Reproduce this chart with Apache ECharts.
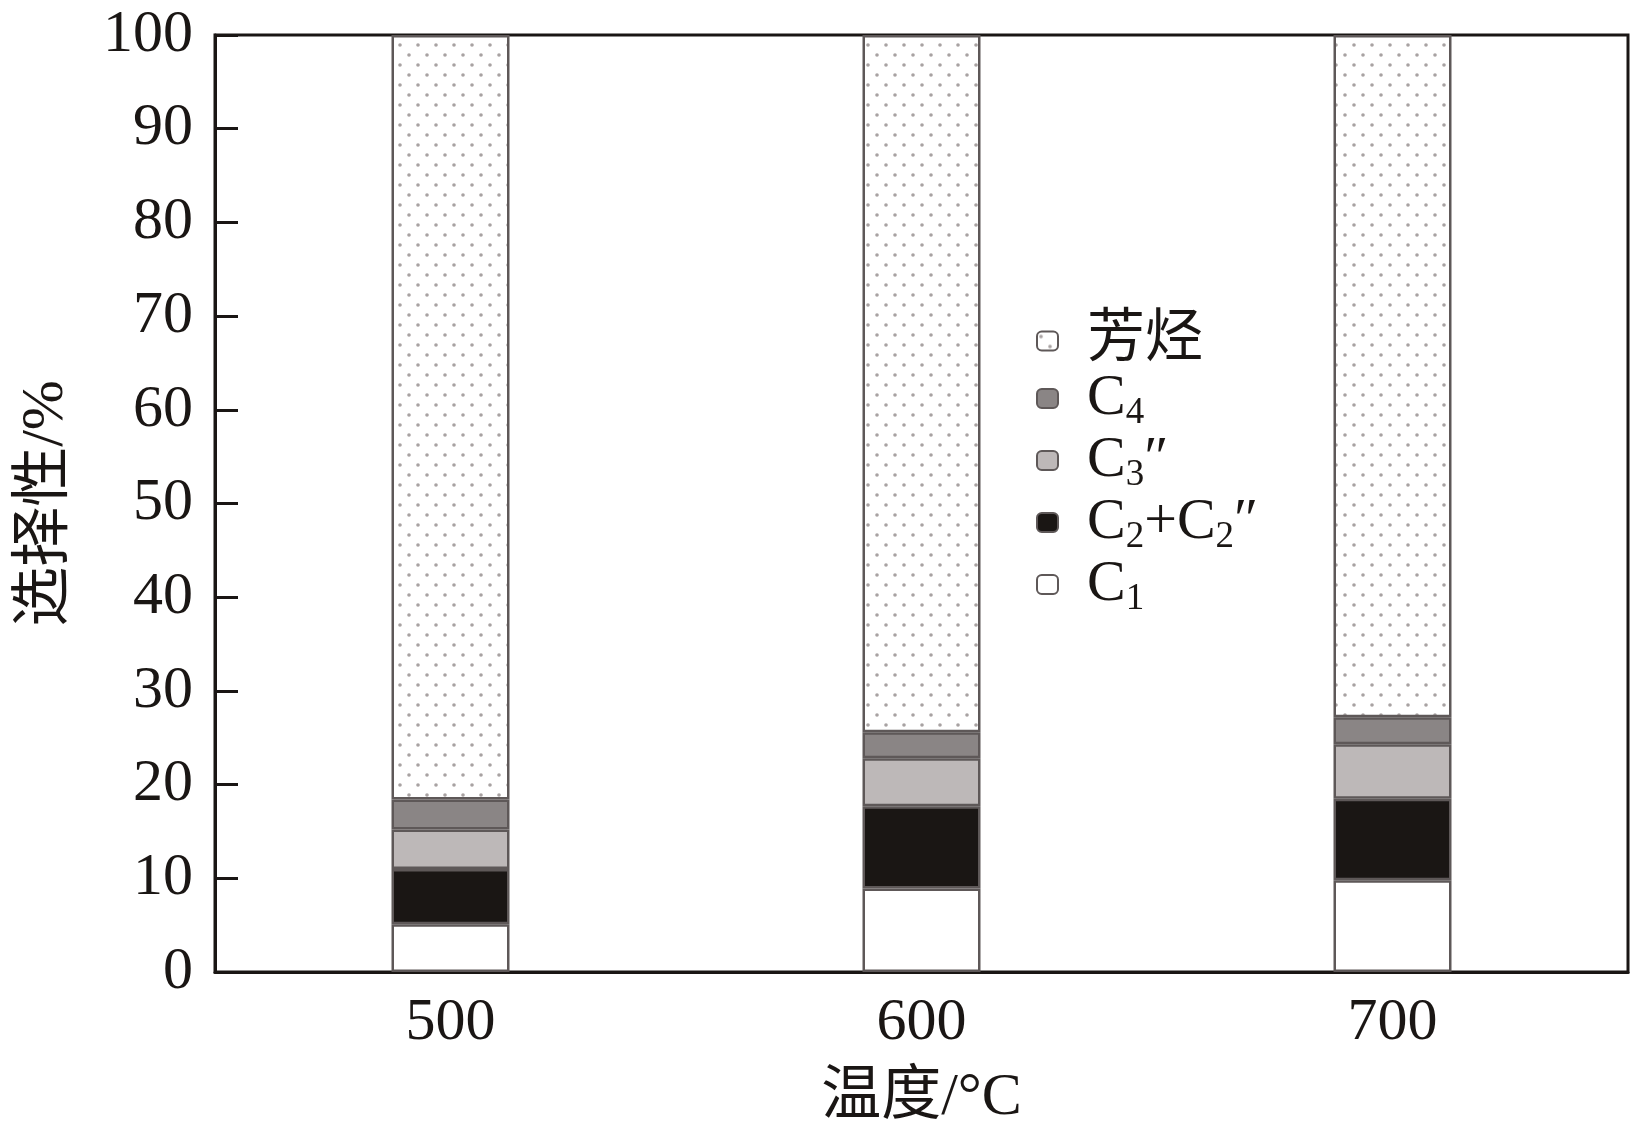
<!DOCTYPE html>
<html><head><meta charset="utf-8">
<script src="https://cdn.jsdelivr.net/npm/echarts@6/dist/echarts.min.js"></script>
<style>html,body{margin:0;padding:0;background:#fff}#c{width:1643px;height:1133px}</style>
</head><body><div id="c"></div>
<script>
const categories = ['500', '600', '700'];
const c1 = [5.1, 8.9, 9.8];
const c2 = [5.9, 8.8, 8.7];
const c3 = [4.2, 5.1, 5.8];
const c4 = [3.2, 2.8, 2.9];
const aromatics = [81.6, 74.4, 72.8];
const yTicks = [0, 10, 20, 30, 40, 50, 60, 70, 80, 90, 100];

const FONT = '"Liberation Serif", "Times New Roman", "Noto Sans CJK SC", serif';

// dot pattern for aromatics
const pc = document.createElement('canvas');
pc.width = 18; pc.height = 20;
const g = pc.getContext('2d');
g.fillStyle = '#ffffff'; g.fillRect(0, 0, 18, 20);
g.fillStyle = '#a8a2a2';
[[4, 5], [13, 15]].forEach(([x, y]) => { g.beginPath(); g.arc(x, y, 1.8, 0, Math.PI * 2); g.fill(); });

const border = { borderColor: '#5e5858', borderWidth: 2.5 };
const seriesDefs = [
  { name: 'C1', data: c1, color: '#ffffff' },
  { name: 'C2', data: c2, color: '#1a1614' },
  { name: 'C3', data: c3, color: '#bdb8b8' },
  { name: 'C4', data: c4, color: '#8a8585' },
  { name: '芳烃', data: aromatics, color: { image: pc, repeat: 'repeat' } }
];
const legendLabels = {
  'C1': '{n|C}{s|1}',
  'C2': '{n|C}{s|2}{n|+C}{s|2}{n|″}',
  'C3': '{n|C}{s|3}{n|″}',
  'C4': '{n|C}{s|4}',
  '芳烃': '{n|芳烃}'
};

const chart = echarts.init(document.getElementById('c'));
chart.setOption({
  backgroundColor: '#fff',
  animation: false,
  grid: { left: 215, right: 15, top: 35, bottom: 161, show: true, borderColor: '#1a1614', borderWidth: 3 },
  legend: {
    orient: 'vertical', left: 1031, top: 307,
    itemWidth: 21, itemHeight: 19, itemGap: -5,
    data: ['芳烃', 'C4', 'C3', 'C2', 'C1'],
    formatter: n => legendLabels[n],
    textStyle: {
      padding: [0, 0, 0, 24],
      rich: {
        n: { fontFamily: FONT, fontSize: 58, color: '#1a1614', lineHeight: 52 },
        s: { fontFamily: FONT, fontSize: 37, color: '#1a1614', lineHeight: 52, padding: [30, 0, 0, 0] }
      }
    }
  },
  xAxis: {
    type: 'category', data: categories,
    name: '温度/°C', nameLocation: 'middle', nameGap: 96,
    nameTextStyle: { fontFamily: FONT, fontSize: 60, color: '#1a1614' },
    axisLine: { show: true, lineStyle: { color: '#1a1614', width: 3 } },
    axisTick: { show: false },
    axisLabel: { fontFamily: FONT, fontSize: 60, color: '#1a1614', margin: 21 }
  },
  yAxis: {
    type: 'value', min: 0, max: 100, interval: 10,
    name: '选择性/%', nameLocation: 'middle', nameGap: 139, nameRotate: 90,
    nameTextStyle: { fontFamily: FONT, fontSize: 60, color: '#1a1614' },
    axisLine: { show: true, lineStyle: { color: '#1a1614', width: 3 } },
    axisTick: { show: true, inside: true, length: 23, lineStyle: { color: '#1a1614', width: 3 } },
    axisLabel: { fontFamily: FONT, fontSize: 60, color: '#1a1614', margin: 22,
      formatter: v => yTicks.includes(v) ? String(v) : '' },
    splitLine: { show: false }
  },
  series: seriesDefs.map(s => ({
    name: s.name, type: 'bar', stack: 'total', barWidth: 118,
    data: s.data,
    itemStyle: Object.assign({ color: s.color }, border),
    emphasis: { disabled: true }
  }))
});
</script></body></html>
